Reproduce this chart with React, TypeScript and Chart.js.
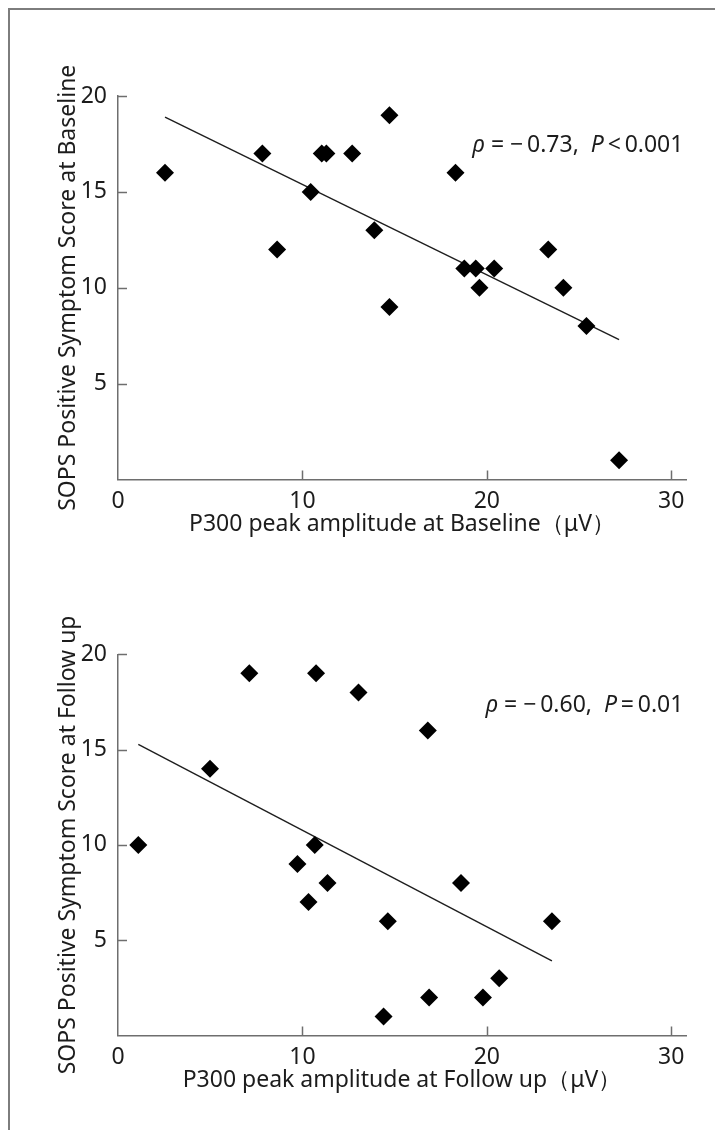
import React, { useEffect, useRef } from 'react';
import { Chart, registerables } from 'chart.js';

Chart.register(...registerables);

// ---------- data ----------
const X_TICKS = [0, 10, 20, 30];
const Y_TICKS = [0, 5, 10, 15, 20];

const BASE_P300 = [2.55, 7.83, 8.63, 10.45, 11.05, 11.3, 12.7, 13.9, 14.72, 14.72, 18.3, 18.78, 19.4, 20.4, 19.6, 23.33, 24.15, 25.4, 27.17];
const BASE_SOPS = [16, 17, 12, 15, 17, 17, 17, 13, 19, 9, 16, 11, 11, 11, 10, 12, 10, 8, 1];
const BASE_FIT_X = [2.55, 27.17];
const BASE_FIT_Y = [18.9, 7.3];

const FOLLOW_P300 = [1.1, 4.99, 7.12, 10.74, 13.04, 10.67, 9.73, 11.36, 10.33, 14.63, 14.4, 16.8, 18.6, 23.53, 20.67, 16.87, 19.79];
const FOLLOW_SOPS = [10, 14, 19, 19, 18, 10, 9, 8, 7, 6, 1, 16, 8, 6, 3, 2, 2];
const FOLLOW_FIT_X = [1.1, 23.53];
const FOLLOW_FIT_Y = [15.28, 3.92];

const BASE_STATS: [string, boolean][] = [['ρ', true], [' = −\u20090.73,  ', false], ['P', true], ['\u2009<\u20090.001', false]];
const FOLLOW_STATS: [string, boolean][] = [['ρ', true], [' = −\u20090.60,  ', false], ['P', true], ['\u2009=\u20090.01', false]];

const BASE_X_TITLE = 'P300 peak amplitude at Baseline（μV）';
const BASE_Y_TITLE = 'SOPS Positive Symptom Score at Baseline';
const FOLLOW_X_TITLE = 'P300 peak amplitude at Follow up（μV）';
const FOLLOW_Y_TITLE = 'SOPS Positive Symptom Score at Follow up';

// ---------- styles ----------
const FONT_FAMILY = "'Noto Sans', 'Open Sans', sans-serif";
const FS = 23;
const LH = FS * 1.2;
const TEXT = '#1c1c1c';
const AXIS = '#6e6e6e';
const W = 700;
const H = 550;
const AREA_LEFT = 108;
const AREA_RIGHT = 676;
const X_MAX = 30.8;

const innerTicks = {
  id: 'innerTicks',
  afterDatasetsDraw(chart: any) {
    const { ctx, chartArea, scales } = chart;
    const x = scales.x;
    const y = scales.y;
    ctx.save();
    ctx.strokeStyle = AXIS;
    ctx.lineWidth = 1.5;
    X_TICKS.forEach((v) => {
      if (v === 0) return;
      const px = Math.round(x.getPixelForValue(v)) + 0.5;
      ctx.beginPath();
      ctx.moveTo(px, chartArea.bottom);
      ctx.lineTo(px, chartArea.bottom - 9);
      ctx.stroke();
    });
    Y_TICKS.forEach((v) => {
      if (v === 0) return;
      const py = Math.round(y.getPixelForValue(v)) + 0.5;
      ctx.beginPath();
      ctx.moveTo(chartArea.left, py);
      ctx.lineTo(chartArea.left + 9, py);
      ctx.stroke();
    });
    ctx.restore();
  },
};

const statsText = {
  id: 'statsText',
  afterDraw(chart: any, _args: any, opts: any) {
    const { ctx, scales } = chart;
    const parts: [string, boolean][] = opts.parts || [];
    let px = scales.x.getPixelForValue(opts.x);
    const py = scales.y.getPixelForValue(opts.y);
    ctx.save();
    ctx.fillStyle = TEXT;
    ctx.textBaseline = 'middle';
    ctx.textAlign = 'left';
    for (let i = parts.length - 1; i >= 0; i--) {
      const [t, it] = parts[i];
      ctx.font = `${it ? 'italic ' : ''}${FS}px ${FONT_FAMILY}`;
      const w = ctx.measureText(t).width;
      px -= w;
      ctx.fillText(t, px, py);
    }
    ctx.restore();
  },
};

type PanelProps = {
  xs: number[];
  ys: number[];
  fitX: number[];
  fitY: number[];
  stats: [string, boolean][];
  statsX: number;
  statsY: number;
  xTitle: string;
  yTitle: string;
  top: number;
  areaTop: number;
  areaBottom: number;
};

function Panel(p: PanelProps) {
  const ref = useRef<HTMLCanvasElement | null>(null);
  useEffect(() => {
    if (!ref.current) return;
    const font = { family: FONT_FAMILY, size: FS, lineHeight: 1.2 };
    const xScaleH = H - p.areaBottom;
    const chart = new Chart(ref.current, {
      type: 'scatter',
      data: {
        datasets: [
          {
            data: p.xs.map((x, i) => ({ x, y: p.ys[i] })),
            pointStyle: 'rectRot',
            pointRadius: 9,
            pointBackgroundColor: '#000',
            pointBorderColor: '#000',
            pointBorderWidth: 0,
            order: 1,
          } as any,
          {
            data: p.fitX.map((x, i) => ({ x, y: p.fitY[i] })),
            showLine: true,
            pointRadius: 0,
            borderColor: '#1e1e1e',
            borderWidth: 1.4,
            fill: false,
            order: 2,
          } as any,
        ],
      },
      options: {
        animation: false,
        responsive: false,
        maintainAspectRatio: false,
        events: [],
        layout: { padding: { left: 0, right: W - AREA_RIGHT, top: p.areaTop, bottom: 0 } },
        plugins: {
          legend: { display: false },
          tooltip: { enabled: false },
          statsText: { parts: p.stats, x: p.statsX, y: p.statsY },
        } as any,
        scales: {
          x: {
            type: 'linear',
            min: 0,
            max: X_MAX,
            afterBuildTicks: (s: any) => {
              s.ticks = X_TICKS.map((v) => ({ value: v }));
            },
            afterFit: (s: any) => {
              s.height = xScaleH;
            },
            grid: { display: false, drawTicks: false, drawOnChartArea: false },
            border: { display: true, color: AXIS, width: 1.5 },
            ticks: { padding: 8, font, color: TEXT, maxRotation: 0, autoSkip: false, includeBounds: false },
            title: {
              display: true,
              text: p.xTitle,
              font,
              color: TEXT,
              padding: { top: 0, bottom: xScaleH - 44.5 - LH / 2 },
            },
          },
          y: {
            type: 'linear',
            min: 0,
            max: 20,
            afterBuildTicks: (s: any) => {
              s.ticks = Y_TICKS.map((v) => ({ value: v }));
            },
            afterFit: (s: any) => {
              s.width = AREA_LEFT;
            },
            grid: { display: false, drawTicks: false, drawOnChartArea: false },
            border: { display: true, color: AXIS, width: 1.5 },
            ticks: {
              padding: 11,
              font,
              color: TEXT,
              autoSkip: false,
              callback: (v: any) => (v === 0 ? '' : String(v)),
            },
            title: {
              display: true,
              text: p.yTitle,
              font,
              color: TEXT,
              padding: { top: 58 - LH / 2, bottom: 0 },
            },
          },
        },
      } as any,
      plugins: [innerTicks, statsText],
    });
    return () => chart.destroy();
  }, []);
  return (
    <canvas
      ref={ref}
      width={W}
      height={H}
      style={{ position: 'absolute', left: 0, top: p.top, width: W, height: H, display: 'block' }}
    />
  );
}

export default function App() {
  return (
    <div
      style={{
        position: 'relative',
        width: 707,
        height: 1122,
        boxSizing: 'border-box',
        borderTop: '2px solid #7d7d7d',
        borderLeft: '2px solid #7d7d7d',
        overflow: 'hidden',
        background: '#fff',
      }}
    >
      <Panel
        xs={BASE_P300}
        ys={BASE_SOPS}
        fitX={BASE_FIT_X}
        fitY={BASE_FIT_Y}
        stats={BASE_STATS}
        statsX={30.66}
        statsY={17.44}
        xTitle={BASE_X_TITLE}
        yTitle={BASE_Y_TITLE}
        top={0}
        areaTop={86}
        areaBottom={469.5}
      />
      <Panel
        xs={FOLLOW_P300}
        ys={FOLLOW_SOPS}
        fitX={FOLLOW_FIT_X}
        fitY={FOLLOW_FIT_Y}
        stats={FOLLOW_STATS}
        statsX={30.66}
        statsY={17.34}
        xTitle={FOLLOW_X_TITLE}
        yTitle={FOLLOW_Y_TITLE}
        top={560}
        areaTop={84.3}
        areaBottom={465.5}
      />
    </div>
  );
}
